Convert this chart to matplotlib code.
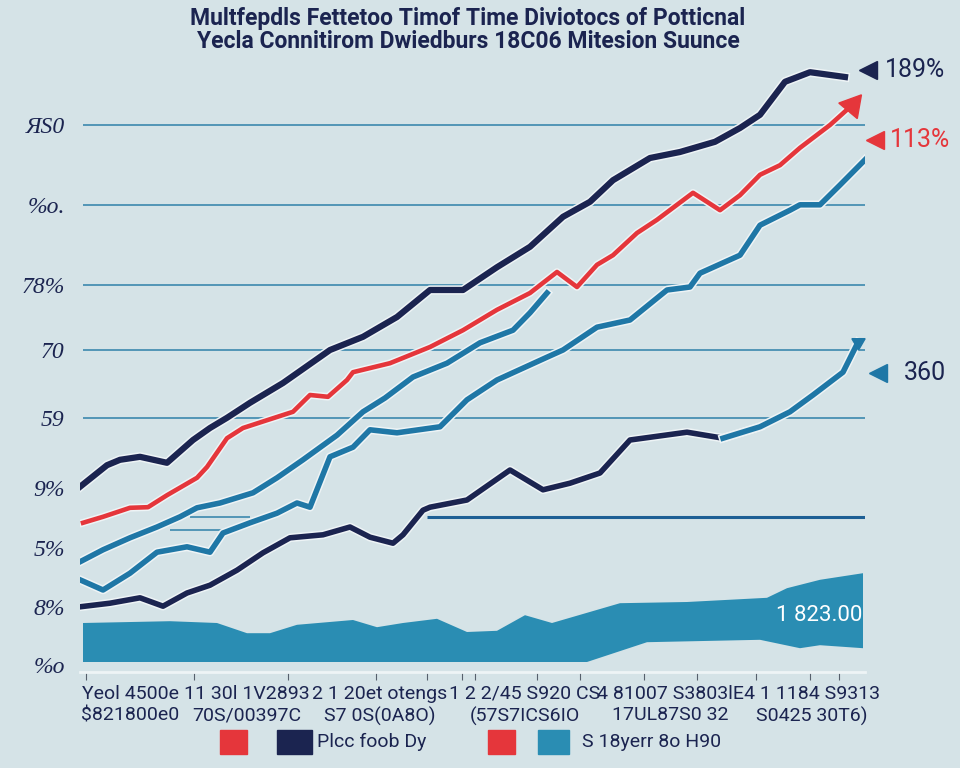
import matplotlib
matplotlib.use("Agg")
import matplotlib.pyplot as plt
import matplotlib.patheffects as pe
from matplotlib.patches import Rectangle
import numpy as np

# ---------------- data ----------------
title_lines = ["Multfepdls Fettetoo Timof Time Diviotocs of Potticnal",
               "Yecla Connitirom Dwiedburs 18C06 Mitesion Suunce"]

ytick_pos = [90.5, 77.2, 63.8, 53.0, 41.7, 30.0, 20.0, 10.2, 0.5]
ytick_labels = ["ЯS0", "%o.", "78%", "70", "59", "9%", "5%", "8%", "%o"]
grid_pos = [90.5, 77.2, 63.8, 53.0, 41.7]

xtick_pos = [5, 16.7, 30, 44.5, 59, 73.2]
xtick_labels = ["Yeol 4500e\n$821800e0",
                "11 30l 1V2893\n70S/00397C",
                "2 1 20et otengs\nS7 0S(0A8O)",
                "1 2 2/45 S920 CS\n(57S7ICS6IO",
                "4 81007 S3803lE\n17UL87S0 32",
                "4 1 1184 S9313\nS0425 30T6)"]
xminor_pos = [0.6, 11.4, 20.8, 29.6, 34.7, 38.2, 39.5, 45.7, 50, 56.4, 61.7, 67.6, 73, 75.9]

# navy top series
a_x = [0, 2.7, 4, 6, 8.7, 11.3, 13, 14.7, 17, 20.3, 25, 28.3, 31.7, 35, 38.3, 41.7,
       45, 48.3, 51, 53.3, 57, 60, 63.5, 66, 68, 70.5, 73, 76.5]
a_y = [30.2, 33.8, 34.7, 35.2, 34.2, 38, 40, 41.7, 44.2, 47.5, 53, 55.2, 58.5, 63, 63,
       66.8, 70.2, 75.2, 77.7, 81.3, 85, 86, 87.7, 90, 92.2, 97.7, 99.3, 98.5]
# red series
b_x = [0.3, 2.3, 5, 6.8, 8.7, 11.7, 12.7, 14.7, 16.3, 18.7, 21.3, 23, 24.8, 26.7, 27.3,
       31, 35, 38.3, 41.7, 45, 47.7, 49.7, 51.7, 53.3, 55.7, 57.7, 61.3, 64, 66, 68, 70,
       72, 75, 77.2]
b_y = [24.2, 25.2, 26.7, 26.8, 28.8, 31.7, 33.5, 38.3, 40, 41.3, 42.7, 45.5, 45.2, 48,
       49.3, 50.8, 53.5, 56.3, 59.7, 62.5, 66, 63.5, 67.2, 68.8, 72.5, 74.7, 79.2, 76.3,
       78.8, 82.2, 83.8, 86.7, 90.5, 93.8]
# upper teal series
c_x = [0, 2.3, 5, 7.7, 10, 11.7, 14, 17.3, 19.7, 22.3, 25.7, 28.3, 30.5, 33.3, 36.7,
       40, 43.3, 45, 46.7]
c_y = [17.7, 19.7, 21.7, 23.5, 25.2, 26.7, 27.5, 29.2, 31.7, 34.7, 38.8, 42.7, 45,
       48.5, 50.8, 54.2, 56.3, 59.2, 62.5]
# lower teal series
d_x = [0, 2.3, 5, 7.7, 10.7, 13, 14.3, 17, 19.7, 21.7, 23, 25, 27.3, 29, 31.7, 36,
       38.7, 41.7, 46.7, 48.3, 51.7, 55, 58.7, 61, 62, 66, 68, 71, 72, 74, 76, 78.5]
d_y = [14.7, 13, 15.8, 19.3, 20.2, 19.3, 22.5, 24.2, 25.8, 27.5, 26.8, 35.2, 36.8,
       39.7, 39.2, 40.2, 44.7, 48, 51.8, 53, 56.8, 58, 63, 63.5, 65.8, 68.8, 73.8,
       76.3, 77.2, 77.2, 80.5, 84.7]
# lower navy series
e_x = [0, 3, 6, 8.3, 10.7, 13, 15.7, 18.3, 21, 24.3, 27, 29, 31.3, 32.3, 34.3, 35,
       38.7, 43, 46.3, 49, 52, 55, 60.7, 64.3, 68]
e_y = [10.2, 10.8, 11.7, 10.3, 12.5, 13.8, 16.3, 19.2, 21.7, 22.2, 23.5, 21.8, 20.8,
       22.2, 26.3, 26.8, 28, 33, 29.7, 30.8, 32.5, 38, 39.3, 38.3, 40.2]
# teal continuation of the lower navy series
f_x = [64.3, 68, 71, 73.3, 76.3, 77.8]
f_y = [38.3, 40.2, 42.7, 45.5, 49.3, 54.3]
# filled teal band (top and bottom edges)
g_x = [0.3, 9, 13.7, 16.7, 19, 21.7, 27.3, 29.7, 32.3, 35.7, 38.7, 41.7, 44.5, 47.2,
       54, 60.7, 68.7, 70.7, 74, 78.3]
g_y = [7.5, 7.8, 7.5, 5.8, 5.8, 7.2, 8, 6.8, 7.5, 8.2, 6, 6.2, 8.8, 7.5, 10.8, 11,
       11.7, 13.3, 14.7, 15.8]
gb_x = [0.3, 50.7, 56.7, 68, 72, 74, 78.3]
gb_y = [1, 1, 4.3, 4.7, 3.3, 3.8, 3.3]

end_labels = ["189%", "113%", "360"]
end_label_y = [99.7, 88.0, 49.2]
band_label = "1 823.00"
legend_labels = ["Plcc foob Dy", "S 18yerr 8o H90"]

# ---------------- style ----------------
BG = "#d5e3e7"
NAVY = "#1b2450"
RED = "#e5363b"
TEAL = "#1f77a6"
FILL = "#2a8db3"
GRID = "#2e80a9"
HALO = "#eef4f6"

fig = plt.figure(figsize=(9.6, 7.68), dpi=100, facecolor=BG)
ax = fig.add_axes([80 / 960, 100 / 768, 785 / 960, 608 / 768])
ax.set_facecolor(BG)
ax.set_xlim(0, 78.5)
ax.set_ylim(0, 608 / 6)

for s in ["top", "right", "left"]:
    ax.spines[s].set_visible(False)
ax.spines["bottom"].set_color(HALO)
ax.spines["bottom"].set_linewidth(2)
ax.spines["bottom"].set_position(("outward", 3))

narrow = ["Roboto", "DejaVu Sans"]

ax.set_yticks(ytick_pos)
ax.set_yticklabels(ytick_labels, fontfamily=["Liberation Serif", "DejaVu Serif"],
                   fontsize=17, color=NAVY, fontstyle="italic")
ax.tick_params(axis="y", length=0, pad=11)

ax.set_xticks(xtick_pos)
ax.set_xticklabels(xtick_labels, fontfamily=narrow, fontsize=14, color=NAVY,
                   linespacing=1.25)
ax.tick_params(axis="x", which="major", length=0, pad=9)
ax.set_xticks(xminor_pos, minor=True)
ax.tick_params(axis="x", which="minor", length=6, width=0.8, color="#56606c",
               direction="out")

ax.hlines(grid_pos, 0.3, 78.5, color=GRID, lw=1.1, zorder=1)
ax.hlines([25.2], 34.7, 78.7, color="#1d5f95", lw=2.2, zorder=1)
ax.hlines([25.2], 11, 17, color=GRID, lw=1.1, zorder=1)
ax.hlines([23.0], 9, 15, color=GRID, lw=1.1, zorder=1)

# filled band
ax.fill(np.concatenate([g_x, gb_x[::-1]]), np.concatenate([g_y, gb_y[::-1]]),
        color=FILL, lw=0, zorder=2)
ax.text(78.2, 8.8, band_label, ha="right", va="center", color="white",
        fontsize=16, fontfamily=narrow, zorder=3)


def halo(w):
    return [pe.Stroke(linewidth=w + 2.2, foreground=HALO), pe.Normal()]


ax.plot(e_x, e_y, color=NAVY, lw=4.0, zorder=4, path_effects=halo(4.0))
ax.plot(f_x, f_y, color=TEAL, lw=4.0, zorder=4, path_effects=halo(4.0))
ax.plot(d_x, d_y, color=TEAL, lw=4.0, zorder=5, path_effects=halo(4.0))
ax.plot(c_x, c_y, color=TEAL, lw=4.0, zorder=5, path_effects=halo(4.0))
ax.plot(b_x, b_y, color=RED, lw=3.3, zorder=6, path_effects=halo(3.3))
ax.plot(a_x, a_y, color=NAVY, lw=4.5, zorder=7, path_effects=halo(4.5))

# end flags
ax.plot([b_x[-1]], [b_y[-1]], marker=(3, 0, -40), ms=20, color=RED, zorder=6,
        clip_on=False)
ax.plot([f_x[-1]], [f_y[-1]], marker=(3, 0, -60), ms=11, color=TEAL, zorder=6,
        clip_on=False)

# end annotations
ann_colors = [NAVY, RED, NAVY]
tri_colors = [NAVY, RED, TEAL]
tri_x = [78.8, 79.5, 79.8]
txt_x = [80.5, 81.0, 82.4]
for lab, yv, cc, tc, tx, xx in zip(end_labels, end_label_y, ann_colors, tri_colors,
                                   tri_x, txt_x):
    ax.plot([tx], [yv], marker="<", ms=13, color=tc, clip_on=False, zorder=8)
    ax.text(xx, yv, lab, ha="left", va="center", color=cc, fontsize=18,
            fontfamily=narrow, clip_on=False, zorder=8)

# title
fig.text(0.4875, 1 - 18 / 768, title_lines[0], ha="center", va="center",
         fontsize=16.5, fontweight="bold", color=NAVY, fontfamily=narrow)
fig.text(0.4875, 1 - 42 / 768, title_lines[1], ha="center", va="center",
         fontsize=16.5, fontweight="bold", color=NAVY, fontfamily=narrow)

# legend
leg_y = 1 - 742 / 768
sq_h = 24 / 768
for (x0, w, col) in [(220, 27, RED), (277, 35, NAVY), (488, 27, RED), (538, 31, FILL)]:
    fig.patches.append(Rectangle((x0 / 960, leg_y - sq_h / 2), w / 960, sq_h,
                                 transform=fig.transFigure, color=col))
fig.text(317 / 960, leg_y, legend_labels[0], ha="left", va="center", fontsize=14,
         color=NAVY, fontfamily=narrow)
fig.text(582 / 960, leg_y, legend_labels[1], ha="left", va="center", fontsize=14,
         color=NAVY, fontfamily=narrow)

fig.savefig("out.png", dpi=100, facecolor=BG)
